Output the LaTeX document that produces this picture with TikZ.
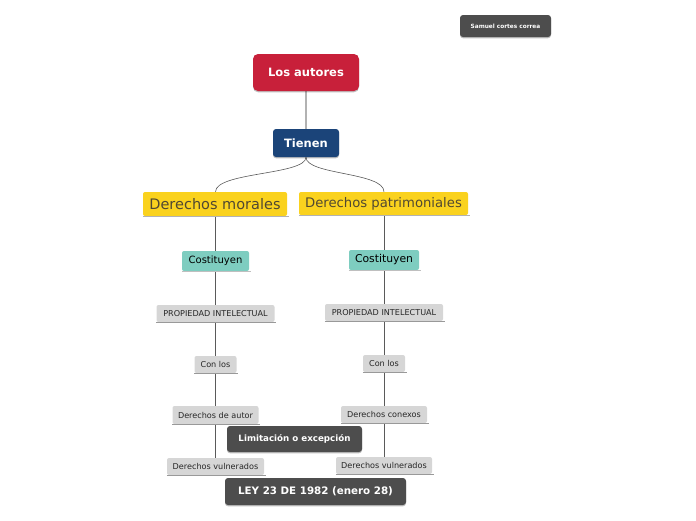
\documentclass[tikz,border=0pt]{standalone}
\usepackage{fontspec}
\setmainfont{DejaVu Sans}
\usetikzlibrary{backgrounds, shadows}
\definecolor{autred}{RGB}{200,32,58}
\definecolor{tienblue}{RGB}{27,68,121}
\definecolor{deryellow}{RGB}{250,210,30}
\definecolor{costteal}{RGB}{126,205,192}
\definecolor{boxgray}{RGB}{214,214,214}
\definecolor{mapdark}{RGB}{77,77,77}
\definecolor{dertext}{RGB}{80,72,50}
\definecolor{linkgray}{RGB}{90,90,90}
\tikzset{
  mapbox/.style={rectangle, rounded corners=3pt, inner sep=0pt, align=center},
  softshadow/.style={drop shadow={shadow xshift=0pt, shadow yshift=-1.3pt,
      opacity=0.25, fill=black}},
  undl/.style={append after command={
      ([yshift=-0.7pt]\tikzlastnode.south west) edge[draw=#1, line width=1.1pt]
      ([xshift=1.5pt, yshift=-0.7pt]\tikzlastnode.south east)}},
  darkbox/.style={mapbox, softshadow, fill=mapdark, text=white, font=\bfseries},
  topbox/.style={mapbox, softshadow, text=white, font=\bfseries\fontsize{11.5}{13}\selectfont},
  derbox/.style={mapbox, rounded corners=2pt, fill=deryellow, text=dertext, undl=black!30},
  costbox/.style={mapbox, rounded corners=2pt, fill=costteal, text=black, undl=black!25},
  graybox/.style={mapbox, rounded corners=2pt, fill=boxgray, text=black!85,
      font=\fontsize{8.1}{9}\selectfont, minimum height=17pt, undl=black!40},
  link/.style={draw=linkgray, line width=0.6pt},
}
\begin{document}
\begin{tikzpicture}[x=1pt, y=-1pt]
  \useasboundingbox (0,0) rectangle (696,520);

  % ---- autor ----
  \node[darkbox, font=\bfseries\fontsize{5.8}{7}\selectfont, minimum width=91pt, minimum height=22pt] (samuel) at (505.5,26) {Samuel cortes correa};

  % ---- raiz ----
  \node[topbox, fill=autred, rounded corners=5pt, minimum width=106pt, minimum height=37pt] (autores) at (306,72.5) {Los autores};
  \node[topbox, fill=tienblue, minimum width=66pt, minimum height=28pt] (tienen) at (306,143) {Tienen};

  % ---- derechos ----
  \node[derbox, font=\fontsize{14.5}{16}\selectfont, minimum width=144pt, minimum height=24pt] (morales) at (215,204) {Derechos morales};
  \node[derbox, font=\fontsize{13.2}{15}\selectfont, minimum width=169pt, minimum height=23pt] (patrim) at (383.5,203.5) {Derechos patrimoniales};

  % ---- rama izquierda ----
  \node[costbox, font=\fontsize{10}{12}\selectfont, minimum width=67pt, minimum height=20pt] (costL) at (215.5,261) {Costituyen};
  \node[graybox, minimum width=118pt] (propL) at (215.5,313.5) {PROPIEDAD INTELECTUAL};
  \node[graybox, minimum width=42pt] (conL) at (215.5,364.5) {Con los};
  \node[graybox, minimum width=86pt, minimum height=18pt] (autor) at (215.5,415) {Derechos de autor};
  \node[graybox, minimum width=97pt] (vulnL) at (215.5,466.5) {Derechos vulnerados};

  % ---- rama derecha ----
  \node[costbox, font=\fontsize{10.8}{12}\selectfont, minimum width=70pt, minimum height=20pt] (costR) at (384,260) {Costituyen};
  \node[graybox, minimum width=118pt] (propR) at (384,312.5) {PROPIEDAD INTELECTUAL};
  \node[graybox, minimum width=42pt] (conR) at (384,363.5) {Con los};
  \node[graybox, minimum width=86pt] (conexos) at (384,414.5) {Derechos conexos};
  \node[graybox, minimum width=96pt] (vulnR) at (384,465.5) {Derechos vulnerados};

  % ---- notas ----
  \node[darkbox, font=\bfseries\fontsize{8.7}{10}\selectfont, minimum width=135pt, minimum height=26pt] (limit) at (294.5,439) {Limitación o excepción};
  \node[darkbox, font=\bfseries\fontsize{10.3}{12}\selectfont, minimum width=181pt, minimum height=27pt] (ley) at (315.5,491.5) {LEY 23 DE 1982 (enero 28)};

  % ---- conectores ----
  \begin{scope}[on background layer]
    \draw[draw=black!30, line width=1.8pt] (autores.south) -- (tienen.north);
    \draw[link] (tienen.south) .. controls (306,175) and (215.5,172) .. (morales.north -| costL);
    \draw[link] (tienen.south) .. controls (306,175) and (384,172) .. (patrim.north -| costR);
    \draw[link] (morales.south -| costL) -- (costL.north);
    \draw[link] (costL.south) -- (propL.north);
    \draw[link] (propL.south) -- (conL.north);
    \draw[link] (conL.south) -- (autor.north);
    \draw[link] (autor.south) -- (vulnL.north);
    \draw[link] (patrim.south -| costR) -- (costR.north);
    \draw[link] (costR.south) -- (propR.north);
    \draw[link] (propR.south) -- (conR.north);
    \draw[link] (conR.south) -- (conexos.north);
    \draw[link] (conexos.south) -- (vulnR.north);
  \end{scope}
\end{tikzpicture}
\end{document}
